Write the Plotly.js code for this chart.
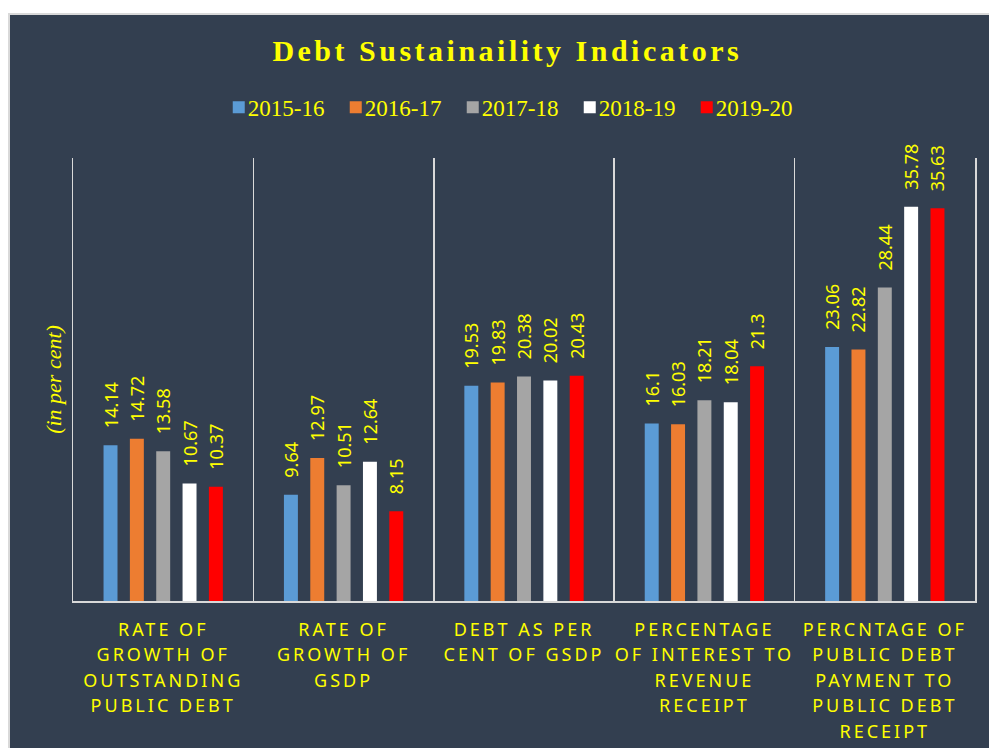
<!DOCTYPE html>
<html>
<head>
<meta charset="utf-8">
<script src="https://cdn.plot.ly/plotly-3.0.1.min.js"></script>
<style>
  html, body { margin: 0; padding: 0; background: #ffffff; width: 989px; height: 748px; overflow: hidden; }
  #panel { position: absolute; left: 8px; top: 13px; width: 981px; height: 735px; border-left: 2px solid #d9d9d9; border-top: 2px solid #d9d9d9; background: #333F50; }
  #chart { width: 979px; height: 733px; }
  .xtick text { letter-spacing: 3px; }
  .gtitle { letter-spacing: 3.5px; }
  .legendtext { transform: translateX(-11px); }
</style>
</head>
<body>
<div id="panel"><div id="chart"></div></div>
<script>
const categories = [
  'RATE OF<br>GROWTH OF<br>OUTSTANDING<br>PUBLIC DEBT',
  'RATE OF<br>GROWTH OF<br>GSDP',
  'DEBT AS PER<br>CENT OF GSDP',
  'PERCENTAGE<br>OF INTEREST TO<br>REVENUE<br>RECEIPT',
  'PERCNTAGE OF<br>PUBLIC DEBT<br>PAYMENT TO<br>PUBLIC DEBT<br>RECEIPT'
];
const seriesNames = ['2015-16', '2016-17', '2017-18', '2018-19', '2019-20'];
const v2015_16 = [14.14, 9.64, 19.53, 16.1, 23.06];
const v2016_17 = [14.72, 12.97, 19.83, 16.03, 22.82];
const v2017_18 = [13.58, 10.51, 20.38, 18.21, 28.44];
const v2018_19 = [10.67, 12.64, 20.02, 18.04, 35.78];
const v2019_20 = [10.37, 8.15, 20.43, 21.3, 35.63];
const seriesValues = [v2015_16, v2016_17, v2017_18, v2018_19, v2019_20];
const seriesColors = ['#5B9BD5', '#ED7D31', '#A5A5A5', '#FFFFFF', '#FF0000'];

const YELLOW = '#FFFF00';
const SANS = 'Noto Sans, Open Sans, sans-serif';
const SERIF = 'Liberation Serif, Times New Roman, serif';

const traces = seriesNames.map((name, i) => ({
  type: 'bar',
  name: name,
  x: categories,
  y: seriesValues[i],
  marker: { color: seriesColors[i], line: { width: 0 } },
  text: seriesValues[i].map(v => '\u00a0\u00a0\u00a0' + String(v)),
  textposition: 'outside',
  textangle: -90,
  constraintext: 'none',
  cliponaxis: false,
  textfont: { family: SANS, size: 18, color: YELLOW },
  hoverinfo: 'skip'
}));

const layout = {
  width: 979,
  height: 733,
  paper_bgcolor: '#333F50',
  plot_bgcolor: '#333F50',
  margin: { l: 63, r: 14, t: 143, b: 147, pad: 0 },
  barmode: 'group',
  bargap: 0.27,
  bargroupgap: 0.47,
  showlegend: true,
  title: {
    text: '<b>Debt Sustainaility Indicators</b>',
    font: { family: SERIF, size: 30, color: YELLOW },
    xref: 'container', x: 0.508,
    yref: 'container', y: 0.951, yanchor: 'middle'
  },
  legend: {
    orientation: 'h',
    xref: 'container', x: 0.512, xanchor: 'center',
    yref: 'container', y: 0.874, yanchor: 'middle',
    font: { family: SERIF, size: 23, color: YELLOW },
    bgcolor: 'rgba(0,0,0,0)',
    entrywidth: 72,
    traceorder: 'normal'
  },
  xaxis: {
    type: 'category',
    tickson: 'boundaries',
    showgrid: true,
    gridcolor: '#d9d9d9',
    gridwidth: 1.5,
    showline: true,
    linecolor: '#d9d9d9',
    linewidth: 2,
    ticks: '',
    ticklabelstandoff: 11,
    tickfont: { family: SANS, size: 18, color: YELLOW },
    tickangle: 0,
    fixedrange: true
  },
  yaxis: {
    range: [0, 40.2],
    showgrid: false,
    zeroline: false,
    showticklabels: false,
    ticks: '',
    showline: true,
    mirror: true,
    linecolor: '#d9d9d9',
    linewidth: 1.5,
    title: {
      text: '<i>(in per cent)</i>',
      font: { family: SERIF, size: 22, color: YELLOW },
      standoff: 4
    },
    fixedrange: true
  }
};

Plotly.newPlot('chart', traces, layout, { displayModeBar: false, staticPlot: true }).then(gd => {
  // Excel-style looser line spacing for the category labels (scale Plotly's own offsets)
  gd.querySelectorAll('.xtick text tspan.line').forEach(t => {
    const dy = t.getAttribute('dy');
    if (dy && dy.endsWith('em')) {
      const v = parseFloat(dy);
      if (v) t.setAttribute('dy', (v * 1.42 / 1.3).toFixed(3) + 'em');
    }
  });
});
</script>
</body>
</html>
